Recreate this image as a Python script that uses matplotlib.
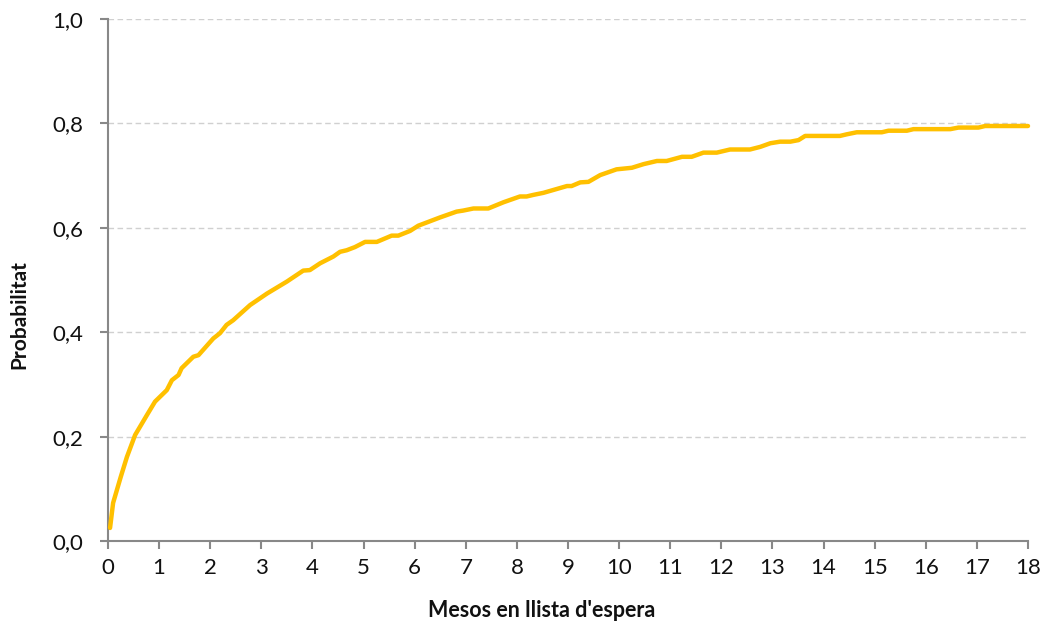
import matplotlib
matplotlib.use("Agg")
import matplotlib.pyplot as plt
from matplotlib.ticker import FuncFormatter, MultipleLocator

months = [0.04, 0.10, 0.25, 0.37, 0.53, 0.76, 0.92, 1.15, 1.25, 1.38, 1.44, 1.67, 1.77,
          2.06, 2.19, 2.32, 2.45, 2.78, 3.11, 3.50, 3.82, 3.95, 4.15, 4.41, 4.54, 4.67,
          4.83, 5.03, 5.26, 5.55, 5.68, 5.91, 6.07, 6.50, 6.82, 6.95, 7.15, 7.44, 7.74,
          8.06, 8.19, 8.32, 8.52, 8.98, 9.07, 9.24, 9.40, 9.63, 9.95, 10.25, 10.48, 10.74,
          10.93, 11.23, 11.42, 11.65, 11.91, 12.17, 12.56, 12.76, 12.96, 13.15, 13.35,
          13.51, 13.64, 14.32, 14.45, 14.65, 15.14, 15.27, 15.63, 15.76, 16.48, 16.64,
          17.03, 17.16, 18.0]
prob = [0.025, 0.073, 0.123, 0.161, 0.203, 0.241, 0.267, 0.289, 0.308, 0.318, 0.331,
        0.353, 0.356, 0.388, 0.398, 0.414, 0.423, 0.452, 0.474, 0.497, 0.518, 0.519,
        0.532, 0.545, 0.554, 0.557, 0.563, 0.573, 0.573, 0.585, 0.585, 0.594, 0.604,
        0.620, 0.631, 0.633, 0.637, 0.637, 0.649, 0.660, 0.660, 0.663, 0.667, 0.680,
        0.680, 0.687, 0.688, 0.701, 0.712, 0.715, 0.722, 0.728, 0.728, 0.736, 0.736,
        0.744, 0.744, 0.750, 0.750, 0.755, 0.762, 0.765, 0.765, 0.768, 0.776, 0.776,
        0.779, 0.783, 0.783, 0.786, 0.786, 0.789, 0.789, 0.792, 0.792, 0.795, 0.795]

x_label = "Mesos en llista d'espera"
y_label = "Probabilitat"

plt.rcParams['font.family'] = ['Lato', 'DejaVu Sans']

W, H = 1052, 626
fig = plt.figure(figsize=(W/100, H/100), dpi=100)
ax = fig.add_axes([108/W, 1 - 541/H, (1028-108)/W, (541-19)/H])

ax.plot(months, prob, color='#FFC000', linewidth=3.2, solid_capstyle='round',
        solid_joinstyle='round', clip_on=False, zorder=3)

ax.set_xlim(0, 18)
ax.set_ylim(0, 1.0)
ax.xaxis.set_major_locator(MultipleLocator(1))
ax.yaxis.set_major_locator(MultipleLocator(0.2))
ax.yaxis.set_major_formatter(FuncFormatter(lambda v, p: f"{v:.1f}".replace('.', ',')))

ax.grid(axis='y', color='#d0d0d0', linestyle=(0, (4, 2.5)), linewidth=1.0)
ax.set_axisbelow(True)
for s in ['top', 'right']:
    ax.spines[s].set_visible(False)
for s in ['left', 'bottom']:
    ax.spines[s].set_color('#888888')
    ax.spines[s].set_linewidth(1.5)

ax.tick_params(axis='both', direction='out', length=6, width=1.5, color='#888888',
               labelsize=16, labelcolor='#111111')
ax.tick_params(axis='y', pad=12)
ax.tick_params(axis='x', pad=6)

fig.text(542/W, 1 - 617/H, x_label, fontsize=15.5, fontweight='bold', color='#111111',
         ha='center', va='baseline')
fig.text(19/W, 1 - 315/H, y_label, fontsize=15, fontweight='bold', color='#111111',
         ha='center', va='center', rotation=90)

fig.savefig('out.png', dpi=100)
